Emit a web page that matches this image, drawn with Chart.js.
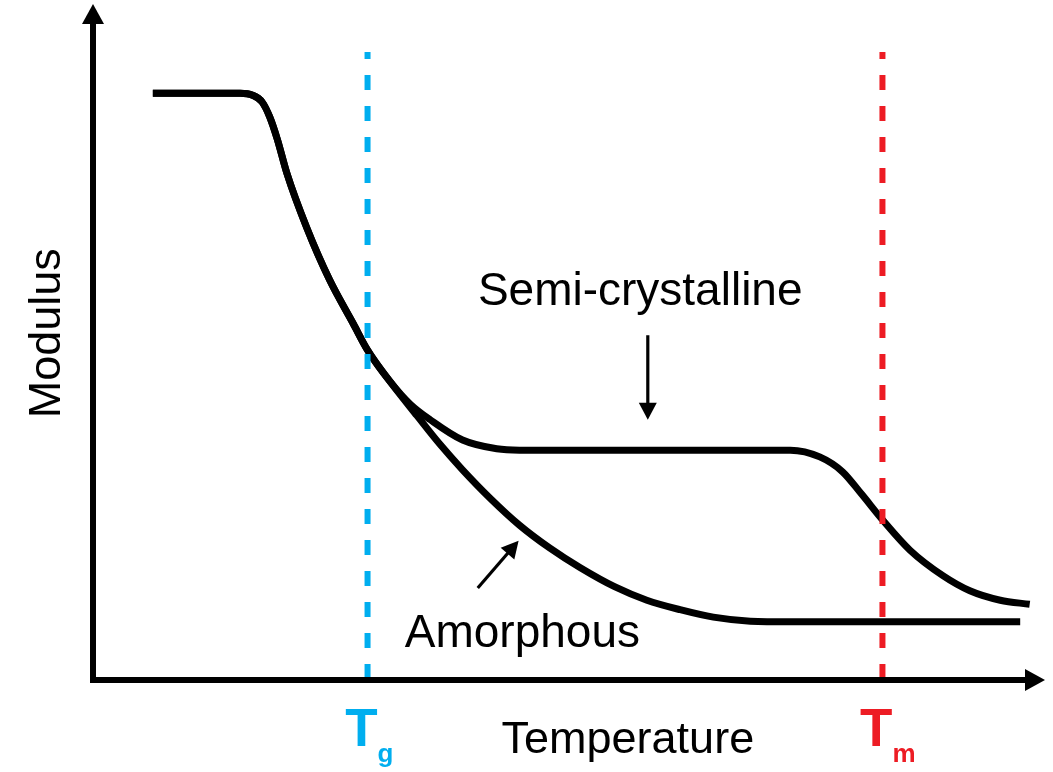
<!DOCTYPE html>
<html>
<head>
<meta charset="utf-8">
<title>Modulus vs Temperature</title>
<script src="https://cdn.jsdelivr.net/npm/chart.js@4/dist/chart.umd.min.js"></script>
<style>
  html, body { margin: 0; padding: 0; background: #ffffff; }
  canvas { display: block; }
</style>
</head>
<body>
<canvas id="chart" width="1053" height="772"></canvas>
<script>
// Temperature (x) and modulus (y) in arbitrary schematic units, 0-100.
const amorphousTemp = [6.3, 15.5, 16.8, 17.8, 18.6, 19.4, 20.4, 22.5, 24.9, 27.4, 28.9, 31.3, 34.1, 36.5, 38.9, 41.8, 44.9, 48.1, 51.3, 54.9, 58.3, 61.8, 65.3, 69.2, 73.4, 97.6];
const amorphousModulus = [86.8, 86.8, 86.5, 85.5, 83.3, 80.0, 75.0, 66.9, 59.2, 52.7, 48.8, 44.1, 39.1, 34.9, 31.1, 26.9, 22.9, 19.5, 16.6, 13.8, 11.8, 10.4, 9.3, 8.7, 8.6, 8.6];

const semiTemp = [6.3, 15.5, 16.8, 17.8, 18.6, 19.4, 20.4, 22.5, 24.9, 27.4, 28.9, 31.3, 33.4, 35.5, 38.9, 42.5, 44.9, 73.4, 76.5, 78.9, 80.9, 83.1, 86.0, 89.5, 92.3, 95.5, 98.6];
const semiModulus = [86.8, 86.8, 86.5, 85.5, 83.3, 80.0, 75.0, 66.9, 59.2, 52.7, 48.8, 44.1, 40.8, 38.5, 35.5, 34.2, 34.0, 34.0, 33.0, 30.8, 27.5, 23.7, 19.2, 15.4, 13.2, 11.8, 11.2];

// Transition temperatures and the extent of their marker lines
const transitionNames = ['g', 'm'];
const transitionTemps = [28.9, 83.1];
const transitionColors = ['#00AEEF', '#ED1C24'];
const markerTop = 92.9;

const toPoints = (xs, ys) => xs.map((x, i) => ({ x: x, y: ys[i] }));

const FONT = '"Liberation Sans", Arial, Helvetica, sans-serif';

// Axes with arrow heads, axis titles, T labels and the annotation arrows
const schematicPlugin = {
  id: 'schematic',
  afterDatasetsDraw(chart) {
    const { ctx, chartArea, scales } = chart;
    const xs = scales.x, ys = scales.y;
    const px = v => xs.getPixelForValue(v);
    const py = v => ys.getPixelForValue(v);
    const ox = chartArea.left, oy = chartArea.bottom;

    const arrowHead = (tx, ty, ang, len, half) => {
      ctx.beginPath();
      ctx.moveTo(tx, ty);
      ctx.lineTo(tx - len * Math.cos(ang) + half * Math.sin(ang), ty - len * Math.sin(ang) - half * Math.cos(ang));
      ctx.lineTo(tx - len * Math.cos(ang) - half * Math.sin(ang), ty - len * Math.sin(ang) + half * Math.cos(ang));
      ctx.closePath();
      ctx.fill();
    };

    ctx.save();
    ctx.strokeStyle = '#000';
    ctx.fillStyle = '#000';
    ctx.lineCap = 'butt';

    // y axis
    ctx.lineWidth = 6;
    ctx.beginPath();
    ctx.moveTo(ox, oy + 3);
    ctx.lineTo(ox, chartArea.top + 20);
    ctx.stroke();
    arrowHead(ox, chartArea.top, -Math.PI / 2, 20, 11);

    // x axis
    ctx.beginPath();
    ctx.moveTo(ox - 3, oy);
    ctx.lineTo(chartArea.right - 18, oy);
    ctx.stroke();
    arrowHead(chartArea.right + 2, oy, 0, 20, 11);

    // Axis titles
    ctx.textBaseline = 'alphabetic';
    ctx.font = '45px ' + FONT;
    ctx.textAlign = 'center';
    ctx.fillText('Temperature', px(56.3), oy + 73);

    ctx.save();
    ctx.translate(ox - 33, py(51.3));
    ctx.rotate(-Math.PI / 2);
    ctx.fillText('Modulus', 0, 0);
    ctx.restore();

    // Curve labels
    ctx.font = '46px ' + FONT;
    ctx.fillText('Semi-crystalline', px(57.6), py(55.5));
    ctx.fillText('Amorphous', px(45.2), py(4.9));

    // Pointer arrows
    ctx.lineWidth = 3.2;
    const drawPointer = (x0, y0, x1, y1) => {
      const a = Math.atan2(py(y1) - py(y0), px(x1) - px(x0));
      ctx.beginPath();
      ctx.moveTo(px(x0), py(y0));
      ctx.lineTo(px(x1) - 12 * Math.cos(a), py(y1) - 12 * Math.sin(a));
      ctx.stroke();
      arrowHead(px(x1), py(y1), a, 17, 9);
    };
    drawPointer(58.4, 51.0, 58.4, 38.5);
    drawPointer(40.5, 13.6, 44.8, 20.6);

    // Transition labels
    transitionNames.forEach((sub, i) => {
      const x = px(transitionTemps[i]);
      ctx.fillStyle = transitionColors[i];
      ctx.textAlign = 'right';
      ctx.font = 'bold 53px ' + FONT;
      ctx.fillText('T', x + 10, oy + 66);
      ctx.textAlign = 'left';
      ctx.font = 'bold 26px ' + FONT;
      ctx.fillText(sub, x + 10, oy + 82);
    });
    ctx.restore();
  }
};

const markerDatasets = transitionTemps.map((t, i) => ({
  data: [{ x: t, y: markerTop }, { x: t, y: 0 }],
  borderColor: transitionColors[i],
  borderWidth: 6,
  borderDash: [15, 16],
  borderDashOffset: 8,
  borderCapStyle: 'butt',
  pointRadius: 0,
  fill: false
}));

const curveStyle = {
  borderColor: '#000',
  borderWidth: 7,
  cubicInterpolationMode: 'monotone',
  borderCapStyle: 'butt',
  borderJoinStyle: 'round',
  pointRadius: 0,
  fill: false
};

new Chart(document.getElementById('chart'), {
  type: 'line',
  data: {
    datasets: [
      ...markerDatasets,
      Object.assign({ label: 'Semi-crystalline', data: toPoints(semiTemp, semiModulus) }, curveStyle),
      Object.assign({ label: 'Amorphous', data: toPoints(amorphousTemp, amorphousModulus) }, curveStyle)
    ]
  },
  options: {
    responsive: false,
    animation: false,
    devicePixelRatio: 1,
    layout: { padding: { left: 93, right: 10, top: 4, bottom: 92 } },
    scales: {
      x: { type: 'linear', min: 0, max: 100, display: false },
      y: { type: 'linear', min: 0, max: 100, display: false }
    },
    plugins: {
      legend: { display: false },
      tooltip: { enabled: false }
    }
  },
  plugins: [schematicPlugin]
});
</script>
</body>
</html>
